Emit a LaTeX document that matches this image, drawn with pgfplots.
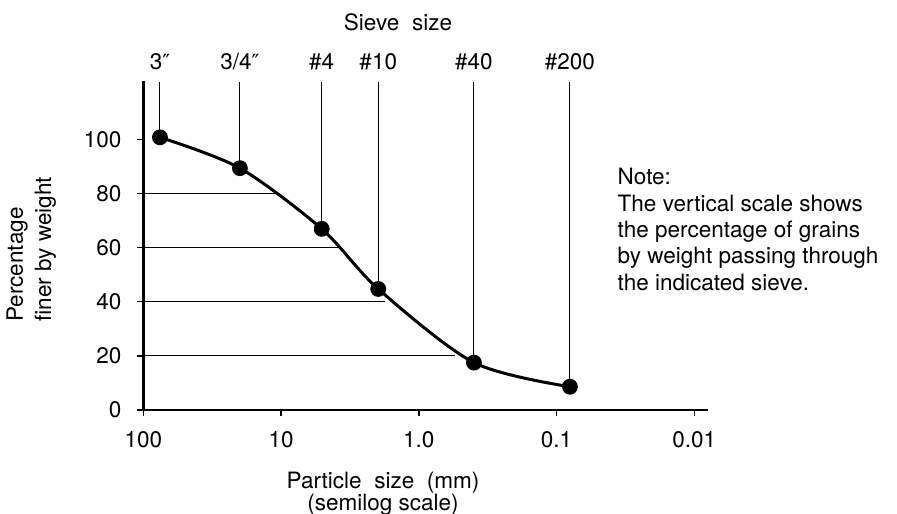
\documentclass[border=0pt]{standalone}
\usepackage{fontspec}
\setmainfont{TeX Gyre Heros}
\newfontfamily\dejavu{DejaVu Sans}
\usepackage{pgfplots}
\pgfplotsset{compat=1.18}

\newcommand{\dprime}{{\dejavu\fontsize{10.5}{13}\selectfont ″}}

\begin{document}
\fontsize{11.3}{13.2}\selectfont
\begin{tikzpicture}
\useasboundingbox (-71.65bp,-52bp) rectangle (376.85bp,205bp);
\begin{axis}[
  at={(0,0)}, anchor=south west,
  scale only axis, width=282.2bp, height=164.5bp,
  xmode=log, x dir=reverse,
  xmin=0.008, xmax=100, ymin=0, ymax=121.5,
  axis x line=bottom, axis y line=left,
  axis line style={-, line width=1.3bp},
  xtick={100,10,1,0.1,0.01}, xticklabels={100,10,1.0,0.1,0.01},
  xminorticks=false,
  ytick={0,20,40,60,80,100},
  tick align=outside, major tick length=3bp,
  tick style={line width=0.7bp, black},
  xticklabel style={yshift=-4bp},
  yticklabel style={xshift=-4bp},
  /pgf/number format/assume math mode=true,
  clip=false,
]
% horizontal guide lines, y axis to curve
\addplot[black, line width=0.5bp] coordinates {(100,80) (11.07,80)};
\addplot[black, line width=0.5bp] coordinates {(100,60) (3.86,60)};
\addplot[black, line width=0.5bp] coordinates {(100,40) (1.76,40)};
\addplot[black, line width=0.5bp] coordinates {(100,20) (0.547,20)};

% sieve lines, point up to top
\addplot[black, line width=0.5bp] coordinates {(75.7,100.7) (75.7,121)};
\addplot[black, line width=0.5bp] coordinates {(19.9,89.3) (19.9,121)};
\addplot[black, line width=0.5bp] coordinates {(5.07,66.9) (5.07,121)};
\addplot[black, line width=0.5bp] coordinates {(1.97,44.7) (1.97,121)};
\addplot[black, line width=0.5bp] coordinates {(0.398,17.5) (0.398,121)};
\addplot[black, line width=0.5bp] coordinates {(0.080,8.6) (0.080,121)};

% grading curve
\addplot[black, line width=1.5bp, smooth, mark=*, mark size=3.2bp,
  mark options={solid, fill=black}] coordinates {
  (75.7,100.7) (19.9,89.3) (5.07,66.9) (1.97,44.7) (0.398,17.5) (0.080,8.6)
};

\node at (axis cs:75.7,128.6) {3\dprime};
\node at (axis cs:19.9,128.6) {3/4\dprime};
\node at (axis cs:5.07,128.6) {\#4};
\node at (axis cs:1.97,128.6) {\#10};
\node at (axis cs:0.398,128.6) {\#40};
\node at (axis cs:0.080,128.6) {\#200};
\end{axis}

\node at (127.35bp,194bp) {Sieve\ \ size};
\node at (119.85bp,-36.5bp) {Particle\ \ size\ \ (mm)};
\node at (119.85bp,-47.5bp) {(semilog scale)};
\node[rotate=90, anchor=west, align=left, inner sep=0pt] at (-56bp,44bp)
  {Percentage\\[1bp]finer by weight};
\node[anchor=north west, align=left, inner sep=0pt] at (237bp,121bp)
  {Note:\\The vertical scale shows\\the percentage of grains\\by weight passing through\\the indicated sieve.};
\end{tikzpicture}
\end{document}
